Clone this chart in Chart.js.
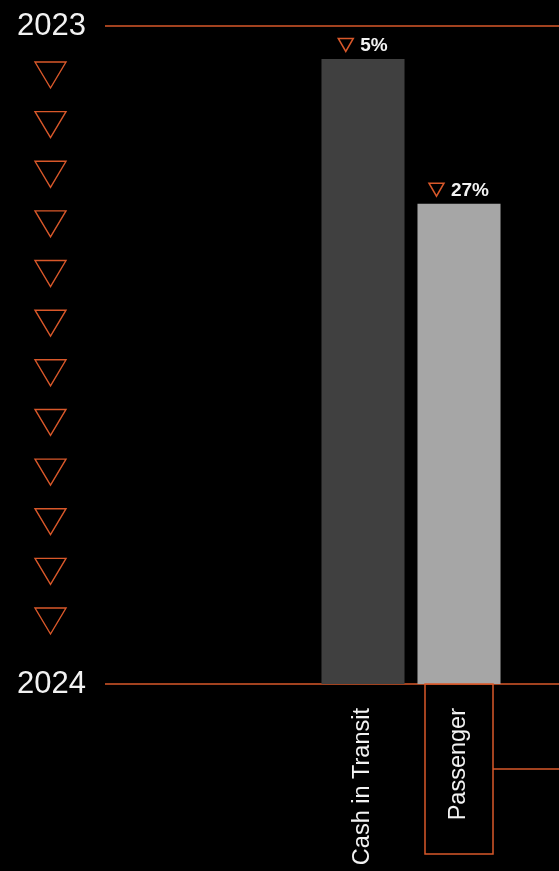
<!DOCTYPE html>
<html><head><meta charset="utf-8">
<style>html,body{margin:0;padding:0;background:#000;}#wrap{width:559px;height:871px;}</style>
<script src="https://cdn.jsdelivr.net/npm/chart.js@4/dist/chart.umd.min.js"></script>
</head><body><div id="wrap"><canvas id="c" width="559" height="871"></canvas></div>
<script>
// ---- data ----
const categories = ["Cash in Transit", "Passenger"];
const indexValues = [95, 73];          // 2024 level with 2023 = 100
const changePct = [-5, -27];           // change 2023 -> 2024
const yTickLabels = {0: "2024", 100: "2023"};
const barColors = ["#404040", "#a6a6a6"];
const highlighted = "Passenger";
const decoTriangleCount = 12;

const ORANGE = "#d9582a";
const TEXT = "#f2f2f2";
const FONT = '"Liberation Sans", Arial, sans-serif';

function downTri(ctx, l, t, w, h) {
  ctx.beginPath();
  ctx.moveTo(l, t); ctx.lineTo(l + w, t); ctx.lineTo(l + w / 2, t + h); ctx.closePath();
  ctx.stroke();
}

const decor = {
  id: 'decor',
  beforeDatasetsDraw(chart) {
    const {ctx, scales: {y}, width} = chart;
    ctx.save();
    ctx.strokeStyle = ORANGE; ctx.lineWidth = 1.5;
    Object.keys(yTickLabels).forEach(v => {
      const py = y.getPixelForValue(+v);
      ctx.beginPath(); ctx.moveTo(105, py); ctx.lineTo(width, py); ctx.stroke();
    });
    // decorative column of down triangles
    const first = y.top + 36, last = y.bottom - 76;
    const step = (last - first) / (decoTriangleCount - 1);
    ctx.lineWidth = 1.4;
    for (let k = 0; k < decoTriangleCount; k++) {
      downTri(ctx, 35, first + k * step, 31, 26);
    }
    ctx.restore();
  },
  afterDatasetsDraw(chart) {
    const {ctx, scales: {x, y}, width} = chart;
    ctx.save();
    const meta = chart.getDatasetMeta(0);
    ctx.font = 'bold 19px ' + FONT;
    ctx.textBaseline = 'middle';
    ctx.textAlign = 'left';
    meta.data.forEach((bar, i) => {
      const txt = Math.abs(changePct[i]) + '%';
      const tw = ctx.measureText(txt).width;
      const triW = 15, triH = 13, gap = 7;
      const total = triW + gap + tw;
      const left = bar.x - total / 2;
      const cy = bar.y - 13;
      ctx.strokeStyle = ORANGE; ctx.lineWidth = 1.5;
      downTri(ctx, left, cy - triH / 2 - 1, triW, triH);
      ctx.fillStyle = TEXT;
      ctx.fillText(txt, left + triW + gap, cy);
    });
    // highlight box around label
    const hi = categories.indexOf(highlighted);
    if (hi >= 0) {
      const cx = x.getPixelForValue(hi);
      const l = cx - 34, r = cx + 34, t = y.bottom, b = y.bottom + 170;
      ctx.strokeStyle = ORANGE; ctx.lineWidth = 1.5;
      ctx.strokeRect(l, t, r - l, b - t);
      const my = (t + b) / 2;
      ctx.beginPath(); ctx.moveTo(r, my); ctx.lineTo(width, my); ctx.stroke();
    }
    ctx.restore();
  }
};

new Chart(document.getElementById('c'), {
  type: 'bar',
  data: {
    labels: categories,
    datasets: [{
      data: indexValues,
      backgroundColor: barColors,
      borderWidth: 0,
      barPercentage: 0.865,
      categoryPercentage: 1
    }]
  },
  options: {
    responsive: false,
    devicePixelRatio: 1,
    animation: false,
    layout: {padding: {left: 17, right: 52, top: 26, bottom: 0}},
    plugins: {legend: {display: false}, tooltip: {enabled: false}},
    scales: {
      y: {
        min: 0, max: 100,
        grid: {display: false, drawTicks: false},
        border: {display: false},
        afterBuildTicks: s => { s.ticks = Object.keys(yTickLabels).map(v => ({value: +v})); },
        ticks: {
          callback: v => yTickLabels[v] ?? '',
          color: TEXT,
          font: {family: FONT, size: 31},
          crossAlign: 'far',
          padding: 0
        },
        afterFit: s => { s.width = 298; }
      },
      x: {
        grid: {display: false, drawTicks: false},
        border: {display: false},
        ticks: {
          color: TEXT,
          font: {family: FONT, size: 23.5},
          minRotation: 90, maxRotation: 90,
          autoSkip: false,
          padding: 24
        },
        afterFit: s => { s.height = 187; }
      }
    }
  },
  plugins: [decor]
});
</script>
</body></html>
